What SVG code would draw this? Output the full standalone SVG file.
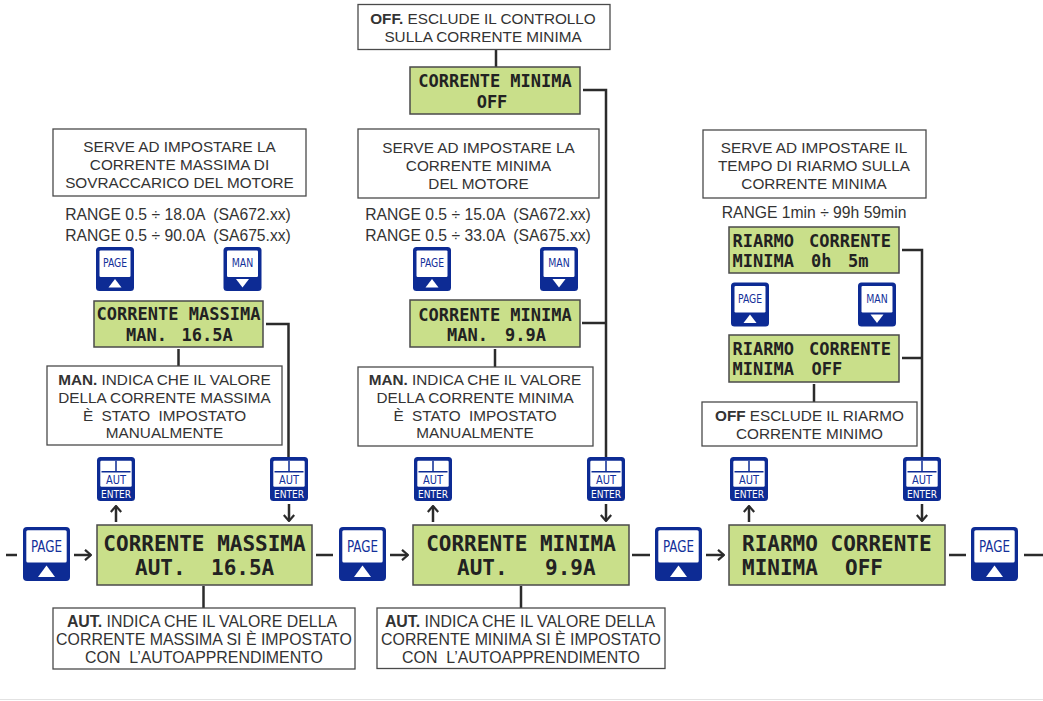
<svg xmlns="http://www.w3.org/2000/svg" xmlns:xlink="http://www.w3.org/1999/xlink" width="1043" height="701" viewBox="0 0 1043 701">
<style>
.lcd{fill:#c9df8a;stroke:#4a4a4a;stroke-width:1.5}
.note{fill:#fff;stroke:#4a4a4a;stroke-width:1.3}
.lt{font-family:'DejaVu Sans Mono',monospace;font-weight:bold;fill:#222}
.big{font-size:21px}
.sm{font-size:17px}
.mid{text-anchor:middle}
.nt{font-family:'Liberation Sans',Arial,sans-serif;font-size:15.3px;fill:#333;text-anchor:middle}
.rg{font-size:15.7px}
.lg{font-size:15.9px}
.b{font-weight:bold}
.conn{stroke:#2b2b2b;stroke-width:2.5;fill:none}
.bt{font-family:'DejaVu Sans Condensed','DejaVu Sans',sans-serif;font-stretch:condensed;fill:#13309a;text-anchor:middle}
</style>
<defs>
<marker id="arr" viewBox="0 0 10 12" refX="9" refY="6" markerWidth="10" markerHeight="12" markerUnits="userSpaceOnUse" orient="auto">
<path d="M3,0.8 L9,6 L3,11.2" fill="none" stroke="#2b2b2b" stroke-width="2.2"/>
</marker>
<g id="pageBig">
<rect width="47" height="54" rx="4" fill="#0d2b94"/>
<rect x="3.3" y="3.3" width="40.4" height="32.3" rx="1.5" fill="#fff"/>
<text x="23.5" y="24.8" font-size="15" textLength="31" lengthAdjust="spacingAndGlyphs" class="bt">PAGE</text>
<polygon points="23.5,38.5 32,50 15,50" fill="#fff"/>
</g>
<g id="pageSm">
<rect width="38" height="44" rx="3.5" fill="#0d2b94"/>
<rect x="3.5" y="3.4" width="31" height="26.6" rx="1.2" fill="#fff"/>
<text x="19" y="20" font-size="11.5" textLength="24" lengthAdjust="spacingAndGlyphs" class="bt">PAGE</text>
<polygon points="19,32 25.5,40.5 12.5,40.5" fill="#fff"/>
</g>
<g id="manSm">
<rect width="38" height="44" rx="3.5" fill="#0d2b94"/>
<rect x="3.5" y="3.4" width="31" height="26.6" rx="1.2" fill="#fff"/>
<text x="19" y="20" font-size="11.5" textLength="21.5" lengthAdjust="spacingAndGlyphs" class="bt">MAN</text>
<polygon points="12.5,32 25.5,32 19,40.5" fill="#fff"/>
</g>
<g id="autBtn">
<rect width="38" height="44" rx="3.5" fill="#0d2b94"/>
<rect x="3.3" y="3.7" width="31.4" height="26" rx="1.2" fill="#fff"/>
<path d="M19 3.7 V14.7 M4.5 14.7 H33.5" stroke="#0d2b94" stroke-width="1.5" fill="none"/>
<text x="19" y="27" font-size="12" textLength="20" lengthAdjust="spacingAndGlyphs" class="bt">AUT</text>
<text x="19" y="40.7" font-size="10.5" textLength="30" lengthAdjust="spacingAndGlyphs" class="bt" style="fill:#fff">ENTER</text>
</g>
</defs>

<rect width="1043" height="701" fill="#fff"/>
<line x1="0" y1="699.5" x2="1043" y2="699.5" stroke="#e2e2e2" stroke-width="1"/>

<g id="connectors">
<path class="conn" d="M6 555 H17"/>
<path class="conn" d="M74 555 H91" marker-end="url(#arr)"/>
<path class="conn" d="M316 555 H333"/>
<path class="conn" d="M390 555 H408" marker-end="url(#arr)"/>
<path class="conn" d="M632 555 H650"/>
<path class="conn" d="M706 555 H724" marker-end="url(#arr)"/>
<path class="conn" d="M949 555 H966"/>
<path class="conn" d="M1024 555 H1043"/>
<path class="conn" d="M116 522 V506" marker-end="url(#arr)"/>
<path class="conn" d="M289 504 V521" marker-end="url(#arr)"/>
<path class="conn" d="M433 522 V506" marker-end="url(#arr)"/>
<path class="conn" d="M606 504 V521" marker-end="url(#arr)"/>
<path class="conn" d="M749 522 V506" marker-end="url(#arr)"/>
<path class="conn" d="M922 504 V521" marker-end="url(#arr)"/>
<path class="conn" d="M203.5 586 V608"/>
<path class="conn" d="M521 586 V608"/>
<path class="conn" d="M178.5 349 V366"/>
<path class="conn" d="M266 324 H288.5 V457"/>
<path class="conn" d="M496 49.5 V67"/>
<path class="conn" d="M583 90 H606 V457"/>
<path class="conn" d="M582 323 H606"/>
<path class="conn" d="M495 349 V367"/>
<path class="conn" d="M902 250 H922 V457"/>
<path class="conn" d="M902 358 H922"/>
<path class="conn" d="M814 384 V402"/>
</g>

<g id="page1"><use href="#pageBig" xlink:href="#pageBig" x="23" y="527"/></g>
<g id="page2"><use href="#pageBig" xlink:href="#pageBig" x="339" y="527"/></g>
<g id="page3"><use href="#pageBig" xlink:href="#pageBig" x="655" y="527"/></g>
<g id="page4"><use href="#pageBig" xlink:href="#pageBig" x="971" y="527"/></g>

<g id="lcd-max-aut">
<rect class="lcd" x="97" y="525" width="215" height="60"/>
<text class="lt big mid" x="204.5" y="551">CORRENTE MASSIMA</text>
<text class="lt big" x="135" y="575">AUT.</text>
<text class="lt big" x="211" y="575">16.5A</text>
</g>
<g id="lcd-min-aut">
<rect class="lcd" x="413" y="525" width="216" height="60"/>
<text class="lt big mid" x="521" y="551">CORRENTE MINIMA</text>
<text class="lt big" x="457" y="575">AUT.</text>
<text class="lt big" x="545" y="575">9.9A</text>
</g>
<g id="lcd-riarmo-main">
<rect class="lcd" x="729" y="525" width="216" height="60"/>
<text class="lt big" x="742" y="551">RIARMO CORRENTE</text>
<text class="lt big" x="742" y="575">MINIMA</text>
<text class="lt big" x="845" y="575">OFF</text>
</g>

<g id="aut1l"><use href="#autBtn" xlink:href="#autBtn" x="97" y="457"/></g>
<g id="aut1r"><use href="#autBtn" xlink:href="#autBtn" x="270" y="457"/></g>
<g id="aut2l"><use href="#autBtn" xlink:href="#autBtn" x="414" y="457"/></g>
<g id="aut2r"><use href="#autBtn" xlink:href="#autBtn" x="587" y="457"/></g>
<g id="aut3l"><use href="#autBtn" xlink:href="#autBtn" x="730" y="457"/></g>
<g id="aut3r"><use href="#autBtn" xlink:href="#autBtn" x="903" y="457"/></g>

<g id="page-sm1"><use href="#pageSm" xlink:href="#pageSm" x="96" y="247"/></g>
<g id="man-sm1"><use href="#manSm" xlink:href="#manSm" x="223.5" y="247"/></g>
<g id="page-sm2"><use href="#pageSm" xlink:href="#pageSm" x="413" y="247"/></g>
<g id="man-sm2"><use href="#manSm" xlink:href="#manSm" x="540" y="247"/></g>
<g id="page-sm3"><use href="#pageSm" xlink:href="#pageSm" x="731" y="282.5"/></g>
<g id="man-sm3"><use href="#manSm" xlink:href="#manSm" x="858" y="282.5"/></g>

<g id="lcd-max-man">
<rect class="lcd" x="94" y="301" width="169" height="46"/>
<text class="lt sm mid" x="178.5" y="320">CORRENTE MASSIMA</text>
<text class="lt sm" x="126" y="340.5">MAN.</text>
<text class="lt sm" x="181.5" y="340.5">16.5A</text>
</g>
<g id="lcd-min-man">
<rect class="lcd" x="410" y="300" width="170" height="47"/>
<text class="lt sm mid" x="495" y="320.5">CORRENTE MINIMA</text>
<text class="lt sm" x="447" y="340.5">MAN.</text>
<text class="lt sm" x="505" y="340.5">9.9A</text>
</g>
<g id="lcd-min-off">
<rect class="lcd" x="410" y="67" width="170" height="47"/>
<text class="lt sm mid" x="495" y="87">CORRENTE MINIMA</text>
<text class="lt sm mid" x="492" y="108">OFF</text>
</g>
<g id="lcd-riarmo-set">
<rect class="lcd" x="729" y="227" width="170" height="46"/>
<text class="lt sm" x="732.5" y="247">RIARMO</text>
<text class="lt sm" x="809" y="247">CORRENTE</text>
<text class="lt sm" x="732.5" y="267">MINIMA</text>
<text class="lt sm" x="811" y="267">0h</text>
<text class="lt sm" x="848" y="267">5m</text>
</g>
<g id="lcd-riarmo-off">
<rect class="lcd" x="729" y="335" width="170" height="47"/>
<text class="lt sm" x="732.5" y="355">RIARMO</text>
<text class="lt sm" x="809" y="355">CORRENTE</text>
<text class="lt sm" x="732.5" y="375">MINIMA</text>
<text class="lt sm" x="811.5" y="375">OFF</text>
</g>

<g id="note-off">
<rect class="note" x="358" y="4.5" width="252" height="45"/>
<text class="nt" x="483" y="23.5"><tspan class="b">OFF.</tspan> ESCLUDE IL CONTROLLO</text>
<text class="nt" x="483" y="42">SULLA CORRENTE MINIMA</text>
</g>
<g id="note-max">
<rect class="note" x="53" y="129" width="253" height="67"/>
<text class="nt" x="179.5" y="152">SERVE AD IMPOSTARE LA</text>
<text class="nt" x="179.5" y="170">CORRENTE MASSIMA DI</text>
<text class="nt" x="179.5" y="188">SOVRACCARICO DEL MOTORE</text>
</g>
<g id="range-max">
<text class="nt rg" x="178" y="219.5" xml:space="preserve">RANGE 0.5 ÷ 18.0A  (SA672.xx)</text>
<text class="nt rg" x="178" y="240.5" xml:space="preserve">RANGE 0.5 ÷ 90.0A  (SA675.xx)</text>
</g>
<g id="note-min">
<rect class="note" x="358" y="129" width="241" height="69"/>
<text class="nt" x="478.5" y="153">SERVE AD IMPOSTARE LA</text>
<text class="nt" x="478.5" y="171">CORRENTE MINIMA</text>
<text class="nt" x="478.5" y="189">DEL MOTORE</text>
</g>
<g id="range-min">
<text class="nt rg" x="478" y="219.5" xml:space="preserve">RANGE 0.5 ÷ 15.0A  (SA672.xx)</text>
<text class="nt rg" x="478" y="240.5" xml:space="preserve">RANGE 0.5 ÷ 33.0A  (SA675.xx)</text>
</g>
<g id="note-riarmo">
<rect class="note" x="703" y="130" width="223" height="68"/>
<text class="nt" x="814" y="153">SERVE AD IMPOSTARE IL</text>
<text class="nt" x="814" y="171">TEMPO DI RIARMO SULLA</text>
<text class="nt" x="814" y="188.5">CORRENTE MINIMA</text>
</g>
<g id="range-riarmo">
<text class="nt rg" x="814" y="217.5">RANGE 1min ÷ 99h 59min</text>
</g>
<g id="note-man-max">
<rect class="note" x="47" y="366" width="235" height="79"/>
<text class="nt" x="164.5" y="384.5"><tspan class="b">MAN.</tspan> INDICA CHE IL VALORE</text>
<text class="nt" x="164.5" y="402.5">DELLA CORRENTE MASSIMA</text>
<text class="nt" x="164.5" y="420.5" xml:space="preserve">È  STATO  IMPOSTATO</text>
<text class="nt" x="164.5" y="438">MANUALMENTE</text>
</g>
<g id="note-man-min">
<rect class="note" x="358" y="367" width="235" height="79"/>
<text class="nt" x="475" y="385"><tspan class="b">MAN.</tspan> INDICA CHE IL VALORE</text>
<text class="nt" x="475" y="403">DELLA CORRENTE MINIMA</text>
<text class="nt" x="475" y="420.7" xml:space="preserve">È  STATO  IMPOSTATO</text>
<text class="nt" x="475" y="438.3">MANUALMENTE</text>
</g>
<g id="note-off-riarmo">
<rect class="note" x="702" y="402" width="215" height="44"/>
<text class="nt" x="809.5" y="420.7"><tspan class="b">OFF</tspan> ESCLUDE IL RIARMO</text>
<text class="nt" x="809.5" y="439">CORRENTE MINIMO</text>
</g>
<g id="note-aut-max">
<rect class="note" x="53" y="608" width="302" height="61"/>
<text class="nt lg" x="202" y="626.7"><tspan class="b">AUT.</tspan> INDICA CHE IL VALORE DELLA</text>
<text class="nt lg" x="204" y="645">CORRENTE MASSIMA SI È IMPOSTATO</text>
<text class="nt lg" x="204" y="662.7" xml:space="preserve">CON  L’AUTOAPPRENDIMENTO</text>
</g>
<g id="note-aut-min">
<rect class="note" x="377" y="608" width="288" height="60.5"/>
<text class="nt lg" x="520" y="627"><tspan class="b">AUT.</tspan> INDICA CHE IL VALORE DELLA</text>
<text class="nt lg" x="521" y="645">CORRENTE MINIMA SI È IMPOSTATO</text>
<text class="nt lg" x="521" y="663" xml:space="preserve">CON  L’AUTOAPPRENDIMENTO</text>
</g>
</svg>
